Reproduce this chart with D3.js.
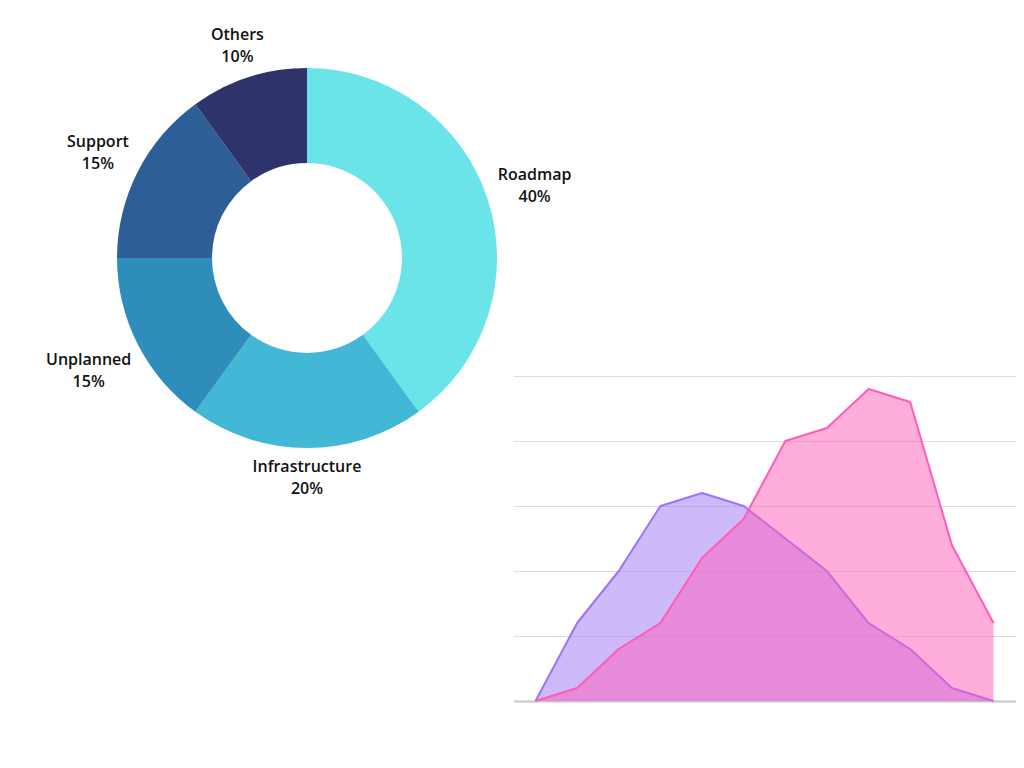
<!DOCTYPE html>
<html>
<head>
<meta charset="utf-8">
<script src="https://cdn.jsdelivr.net/npm/d3@7"></script>
<style>
  html, body { margin: 0; padding: 0; background: #fff; }
  svg { display: block; }
  text { font-family: "Open Sans", "Lato", sans-serif; font-weight: 600; font-size: 16px; fill: #111; }
</style>
</head>
<body>
<svg id="chart" width="1024" height="768"></svg>
<script>
// ---- Donut data ----
const donutLabels = ["Roadmap", "Infrastructure", "Unplanned", "Support", "Others"];
const donutValues = [40, 20, 15, 15, 10];
const donutColors = ["#6ae4e8", "#43b7d6", "#2e8dbb", "#2d5f96", "#2f336b"];

// ---- Area data ----
const areaX = [0, 1, 2, 3, 4, 5, 6, 7, 8, 9, 10, 11];
const seriesPurple = [0, 12, 20, 30, 32, 30, 25, 20, 12, 8, 2, 0];
const seriesPink = [0, 2, 8, 12, 22, 28, 40, 42, 48, 46, 24, 12];
const yTicks = [0, 10, 20, 30, 40, 50];
const seriesColors = ["#9d73f7", "#ff5cb8"];

const svg = d3.select("#chart");

// ---- Donut ----
const cx = 307, cy = 258, outerR = 190, innerR = 95;
const pie = d3.pie().sort(null).value(d => d.v);
const arcs = pie(donutLabels.map((l, i) => ({ l, v: donutValues[i], c: donutColors[i] })));
const arc = d3.arc().innerRadius(innerR).outerRadius(outerR);
const gD = svg.append("g").attr("transform", `translate(${cx},${cy})`);
gD.selectAll("path").data(arcs).join("path")
  .attr("d", arc).attr("fill", d => d.data.c);

const total = d3.sum(donutValues);
const labelGap = 198;
const lbl = gD.selectAll("g.lbl").data(arcs).join("g").attr("class", "lbl");
lbl.append("text").attr("text-anchor", "middle").attr("y", -4).text(d => d.data.l);
lbl.append("text").attr("text-anchor", "middle").attr("y", 18)
  .text(d => Math.round(d.data.v / total * 100) + "%");
lbl.each(function (d) {
  const bb = this.getBBox();
  const hw = bb.width / 2, hh = 20;
  const a = (d.startAngle + d.endAngle) / 2;
  const s = Math.sin(a), c = Math.cos(a);
  const dist = labelGap + hw * Math.abs(s) + hh * Math.abs(c);
  d3.select(this).attr("transform", `translate(${dist * s},${-dist * c})`);
});

// ---- Area chart ----
const x = d3.scaleLinear().domain([0, 11]).range([535.5, 993.5]);
const y = d3.scaleLinear().domain([0, 50]).range([701, 376]);
const gridX0 = 514, gridX1 = 1016;

svg.append("g").selectAll("line").data(yTicks).join("line")
  .attr("x1", gridX0).attr("x2", gridX1)
  .attr("y1", d => y(d) + 0.5).attr("y2", d => y(d) + 0.5)
  .attr("stroke", d => d === 0 ? "#c8c8c8" : "#dddddd")
  .attr("stroke-width", d => d === 0 ? 2 : 1);

const area = d3.area().x((d, i) => x(areaX[i])).y0(y(0)).y1(d => y(d));
const line = d3.line().x((d, i) => x(areaX[i])).y(d => y(d));

[seriesPurple, seriesPink].forEach((s, k) => {
  svg.append("path").attr("d", area(s)).attr("fill", seriesColors[k]).attr("fill-opacity", 0.5);
  svg.append("path").attr("d", line(s)).attr("fill", "none")
    .attr("stroke", seriesColors[k]).attr("stroke-width", 2).attr("stroke-linejoin", "round");
});
</script>
</body>
</html>
